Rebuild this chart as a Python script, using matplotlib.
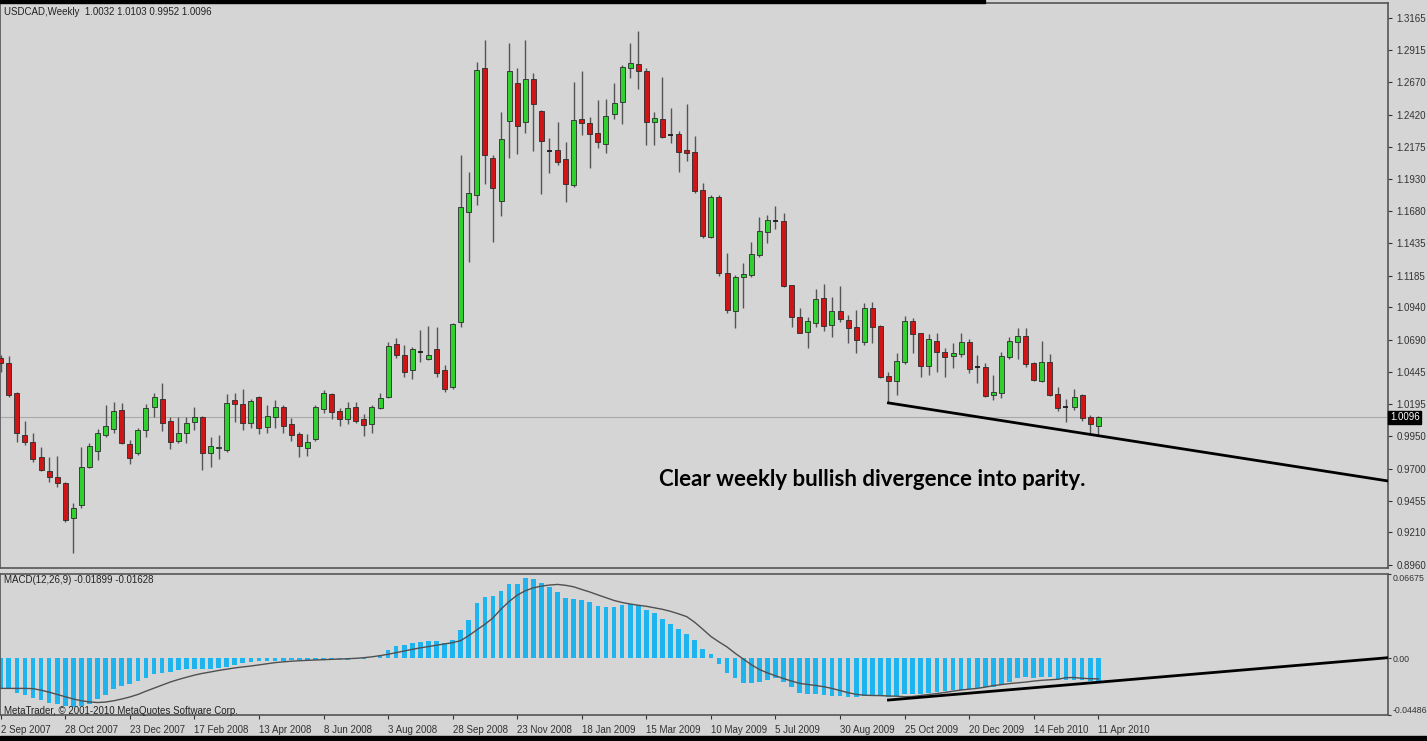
import numpy as np
import matplotlib
matplotlib.use('Agg')
import matplotlib.pyplot as plt
import matplotlib.transforms as mtransforms
from matplotlib.patches import Rectangle

# weekly USDCAD candles, 2 Sep 2007 .. 11 Apr 2010
opens = [1.0552, 1.0513, 1.0282, 0.9960, 0.9906, 0.9790, 0.9683, 0.9637, 0.9591, 0.9322,
         0.9422, 0.9713, 0.9837, 0.9960, 1.0006, 1.0152, 0.9890, 0.9821, 0.9998, 1.0175,
         1.0236, 1.0067, 0.9913, 0.9975, 1.0060, 1.0098, 0.9821, 0.9860, 0.9844, 1.0229,
         1.0198, 1.0052, 1.0252, 1.0021, 1.0098, 1.0175, 1.0044, 0.9967, 0.9860, 0.9929,
         1.0160, 1.0275, 1.0144, 1.0083, 1.0175, 1.0083, 1.0044, 1.0167, 1.0252, 1.0659,
         1.0575, 1.0459, 1.0598, 1.0544, 1.0621, 1.0459, 1.0328, 1.0828, 1.1674, 1.1804,
         1.2781, 1.2089, 1.1758, 1.2373, 1.2665, 1.2366, 1.2696, 1.2450, 1.2143, 1.2150,
         1.2081, 1.1881, 1.2389, 1.2358, 1.2281, 1.2197, 1.2427, 1.2519, 1.2781, 1.2811,
         1.2758, 1.2366, 1.2389, 1.2266, 1.2273, 1.2150, 1.2135, 1.1843, 1.1481, 1.1789,
         1.1205, 1.0913, 1.1174, 1.1189, 1.1343, 1.1520, 1.1605, 1.1605, 1.1113, 1.0867,
         1.0751, 1.0820, 1.1013, 1.0805, 1.0913, 1.0844, 1.0790, 1.0674, 1.0936, 1.0797,
         1.0413, 1.0375, 1.0521, 1.0836, 1.0744, 1.0490, 1.0682, 1.0598, 1.0567, 1.0582,
         1.0674, 1.0482, 1.0482, 1.0267, 1.0282, 1.0559, 1.0674, 1.0720, 1.0513, 1.0375,
         1.0521, 1.0275, 1.0175, 1.0175, 1.0267, 1.0098, 1.0032]
highs = [1.0575, 1.0567, 1.0290, 1.0067, 0.9975, 0.9867, 0.9790, 0.9798, 0.9598, 0.9437,
         0.9867, 0.9898, 1.0006, 1.0190, 1.0213, 1.0206, 0.9921, 1.0013, 1.0198, 1.0282,
         1.0359, 1.0098, 1.0098, 1.0098, 1.0175, 1.0106, 0.9944, 0.9960, 1.0275, 1.0282,
         1.0313, 1.0236, 1.0259, 1.0190, 1.0229, 1.0190, 1.0090, 0.9983, 0.9967, 1.0190,
         1.0305, 1.0282, 1.0167, 1.0213, 1.0213, 1.0121, 1.0190, 1.0282, 1.0674, 1.0705,
         1.0651, 1.0636, 1.0767, 1.0797, 1.0790, 1.0498, 1.0820, 1.2112, 1.1981, 1.2827,
         1.2995, 1.2112, 1.2442, 1.2973, 1.2781, 1.2996, 1.2742, 1.2458, 1.2243, 1.2366,
         1.2212, 1.2673, 1.2758, 1.2404, 1.2535, 1.2542, 1.2665, 1.2804, 1.2973, 1.3065,
         1.2781, 1.2442, 1.2711, 1.2473, 1.2296, 1.2504, 1.2258, 1.1896, 1.1804, 1.1804,
         1.1359, 1.1189, 1.1282, 1.1443, 1.1635, 1.1651, 1.1720, 1.1666, 1.1113, 1.0936,
         1.0867, 1.1082, 1.1120, 1.1020, 1.1105, 1.0882, 1.0920, 1.0974, 1.0982, 1.0805,
         1.0443, 1.0590, 1.0874, 1.0859, 1.0744, 1.0736, 1.0744, 1.0628, 1.0667, 1.0744,
         1.0697, 1.0575, 1.0513, 1.0421, 1.0598, 1.0713, 1.0782, 1.0782, 1.0521, 1.0682,
         1.0582, 1.0328, 1.0236, 1.0313, 1.0275, 1.0113, 1.0103]
lows = [1.0444, 1.0252, 0.9906, 0.9883, 0.9752, 0.9683, 0.9598, 0.9560, 0.9291, 0.9056,
        0.9398, 0.9706, 0.9767, 0.9944, 0.9975, 0.9890, 0.9737, 0.9806, 0.9944, 1.0098,
        0.9990, 0.9852, 0.9898, 0.9898, 0.9998, 0.9690, 0.9713, 0.9775, 0.9829, 1.0060,
        0.9998, 1.0013, 0.9967, 0.9975, 1.0013, 0.9975, 0.9913, 0.9790, 0.9798, 0.9913,
        1.0129, 1.0083, 1.0029, 1.0044, 1.0052, 0.9952, 0.9975, 1.0160, 1.0244, 1.0552,
        1.0405, 1.0390, 1.0521, 1.0536, 1.0405, 1.0290, 1.0313, 1.0790, 1.1289, 1.1728,
        1.1889, 1.1443, 1.1643, 1.2089, 1.2120, 1.2281, 1.2143, 1.1812, 1.1974, 1.2035,
        1.1751, 1.1866, 1.2266, 1.2012, 1.2166, 1.2127, 1.2389, 1.2350, 1.2704, 1.2619,
        1.2189, 1.2189, 1.2243, 1.2204, 1.1981, 1.2066, 1.1820, 1.1474, 1.1474, 1.1182,
        1.0897, 1.0782, 1.0936, 1.1174, 1.1328, 1.1436, 1.1543, 1.1097, 1.0790, 1.0744,
        1.0628, 1.0790, 1.0759, 1.0713, 1.0828, 1.0667, 1.0590, 1.0651, 1.0667, 1.0398,
        1.0206, 1.0267, 1.0505, 1.0590, 1.0405, 1.0420, 1.0444, 1.0405, 1.0475, 1.0559,
        1.0436, 1.0359, 1.0252, 1.0229, 1.0244, 1.0544, 1.0544, 1.0482, 1.0375, 1.0367,
        1.0259, 1.0144, 1.0060, 1.0152, 1.0067, 0.9975, 0.9952]
closes = [1.0513, 1.0267, 0.9975, 0.9906, 0.9775, 0.9690, 0.9637, 0.9591, 0.9306, 0.9399,
          0.9713, 0.9875, 0.9975, 1.0029, 1.0144, 0.9898, 0.9783, 0.9998, 1.0167, 1.0252,
          1.0052, 0.9906, 0.9975, 1.0052, 1.0098, 0.9821, 0.9875, 0.9867, 1.0206, 1.0198,
          1.0052, 1.0221, 1.0013, 1.0106, 1.0175, 1.0029, 0.9960, 0.9875, 0.9906, 1.0175,
          1.0282, 1.0137, 1.0083, 1.0167, 1.0067, 1.0037, 1.0175, 1.0244, 1.0644, 1.0575,
          1.0444, 1.0621, 1.0598, 1.0575, 1.0436, 1.0313, 1.0813, 1.1712, 1.1820, 1.2765,
          1.2112, 1.1858, 1.2235, 1.2758, 1.2335, 1.2696, 1.2504, 1.2220, 1.2143, 1.2058,
          1.1889, 1.2381, 1.2358, 1.2273, 1.2212, 1.2412, 1.2512, 1.2788, 1.2819, 1.2758,
          1.2366, 1.2396, 1.2250, 1.2266, 1.2135, 1.2127, 1.1835, 1.1489, 1.1789, 1.1205,
          1.0920, 1.1174, 1.1197, 1.1351, 1.1528, 1.1612, 1.1605, 1.1105, 1.0867, 1.0744,
          1.0836, 1.1005, 1.0797, 1.0913, 1.0851, 1.0782, 1.0690, 1.0936, 1.0790, 1.0405,
          1.0375, 1.0529, 1.0836, 1.0736, 1.0490, 1.0697, 1.0598, 1.0559, 1.0590, 1.0674,
          1.0467, 1.0482, 1.0259, 1.0290, 1.0567, 1.0682, 1.0720, 1.0505, 1.0382, 1.0521,
          1.0267, 1.0167, 1.0175, 1.0252, 1.0090, 1.0044, 1.0096]

# MACD(12,26,9) main and signal, in thousandths
macd_main = [-23.9, -23.9, -27.2, -29.0, -31.5, -33.3, -35.3, -36.5, -37.8, -38.6,
             -37.8, -35.8, -32.3, -29.0, -23.9, -22.2, -20.2, -17.6, -15.6, -12.1,
             -11.3, -10.6, -9.6, -8.8, -8.8, -8.8, -8.8, -8.0, -7.0, -5.5,
             -3.8, -3.0, -2.5, -2.5, -2.0, -1.8, -1.5, -1.5, -1.8, -1.5,
             -1.0, -0.8, -0.8, -1.0, -0.8, -0.5, 0.3, 3.0, 6.3, 10.1,
             10.8, 12.1, 13.1, 13.9, 13.4, 12.1, 14.6, 22.7, 30.2, 44.1,
             48.4, 49.1, 52.9, 58.7, 59.2, 63.5, 63.0, 60.0, 56.7, 52.5,
             47.8, 47.3, 46.5, 44.4, 41.2, 40.4, 40.4, 42.0, 43.0, 42.5,
             38.5, 35.9, 31.4, 27.1, 23.4, 19.1, 14.6, 7.4, 3.2, -4.8,
             -12.0, -15.9, -19.9, -19.9, -19.1, -17.3, -15.9, -18.6, -22.6, -27.1,
             -27.9, -27.9, -29.2, -30.0, -30.0, -30.6, -30.6, -30.0, -30.0, -30.0,
             -30.6, -30.0, -28.4, -28.4, -27.9, -27.4, -26.6, -25.8, -25.2, -24.7,
             -23.9, -23.1, -22.6, -22.6, -21.3, -18.6, -15.9, -15.1, -15.9, -15.1,
             -15.1, -16.7, -17.3, -17.3, -17.3, -17.8, -18.99]
macd_signal = [-23.8, -23.8, -23.8, -23.8, -24.0, -25.2, -26.8, -28.6, -30.4, -32.2,
               -33.6, -34.5, -35.0, -34.6, -33.6, -32.2, -30.6, -28.6, -26.0, -23.6,
               -21.2, -18.8, -16.8, -15.0, -13.3, -11.9, -10.8, -9.6, -8.6, -7.6,
               -6.8, -6.1, -5.2, -4.3, -3.4, -2.8, -2.3, -1.9, -1.6, -1.3,
               -1.1, -0.8, -0.6, -0.3, 0.0, 0.5, 1.2, 2.1, 3.2, 4.5,
               5.8, 7.1, 8.3, 9.3, 10.4, 11.4, 12.4, 14.0, 18.0, 22.5,
               27.0, 32.0, 39.0, 45.0, 50.0, 53.5, 55.8, 57.2, 58.0, 58.5,
               57.8, 56.6, 54.5, 52.5, 50.2, 48.0, 45.8, 44.2, 43.0, 42.0,
               41.2, 40.0, 38.8, 37.2, 35.2, 33.0, 28.5, 23.0, 17.3, 13.0,
               9.0, 4.0, -0.5, -5.0, -8.8, -11.5, -13.8, -16.0, -18.0, -19.8,
               -20.7, -21.5, -22.5, -23.8, -25.5, -27.2, -28.5, -29.2, -29.4, -29.5,
               -29.8, -30.0, -30.4, -30.2, -29.4, -28.6, -27.9, -27.0, -26.0, -25.1,
               -24.4, -23.8, -22.8, -21.6, -20.8, -20.0, -19.4, -18.8, -18.0, -17.4,
               -17.0, -16.6, -15.3, -15.2, -15.8, -16.1, -16.28]

date_labels = ['2 Sep 2007', '28 Oct 2007', '23 Dec 2007', '17 Feb 2008', '13 Apr 2008',
               '8 Jun 2008', '3 Aug 2008', '28 Sep 2008', '23 Nov 2008', '18 Jan 2009',
               '15 Mar 2009', '10 May 2009', '5 Jul 2009', '30 Aug 2009', '25 Oct 2009',
               '20 Dec 2009', '14 Feb 2010', '11 Apr 2010']
price_ticks = [1.3165, 1.2915, 1.2670, 1.2420, 1.2175, 1.1930, 1.1680, 1.1435, 1.1185,
               1.0940, 1.0690, 1.0445, 1.0195, 0.9950, 0.9700, 0.9455, 0.9210, 0.8960]
last_price = 1.0096
# trend lines: (bar index, value) end points
price_trend = ([110, 171.9], [1.0206, 0.9606])
macd_trend = ([110, 171.9], [-0.0330, 0.0005])

plt.rcParams['font.family'] = ['Liberation Sans', 'DejaVu Sans']

BG = '#d5d5d5'
W, H = 1427, 741
fig = plt.figure(figsize=(W / 100, H / 100), dpi=100, facecolor=BG)
ax = fig.add_axes([0, 1 - 568 / H, 1388 / W, 565 / H], facecolor=BG)
axm = fig.add_axes([0, 1 - 715 / H, 1388 / W, 141 / H], facecolor=BG, sharex=ax)

x = np.arange(len(opens))
o, h, l, c = map(np.array, (opens, highs, lows, closes))
up = c > o
dn = c < o
dj = c == o

ax.axhline(last_price, color='#a9a9a9', lw=0.8, zorder=1)
ax.vlines(x, l, h, color='#555555', lw=1, zorder=2)
ax.bar(x[up], c[up] - o[up], bottom=o[up], width=0.62, color='#30d030',
       edgecolor='#2b2b2b', linewidth=0.6, zorder=3)
ax.bar(x[dn], o[dn] - c[dn], bottom=c[dn], width=0.62, color='#cf1515',
       edgecolor='#2b2b2b', linewidth=0.6, zorder=3)
ax.hlines(o[dj], x[dj] - 0.31, x[dj] + 0.31, color='#1a1a1a', lw=1.3, zorder=3)
ax.plot(*price_trend, color='black', lw=2, zorder=4)

ax.text(108, 0.9621, 'Clear weekly bullish divergence into parity.', family=['Lato', 'DejaVu Sans'],
        fontsize=16, fontweight='bold', ha='center', va='center', color='black')

ax.set_xlim(-0.087, 171.9)
ax.set_ylim(0.8937, 1.3280)
ax.yaxis.tick_right()
ax.set_yticks(price_ticks)
ax.set_yticklabels([f'{t:.4f}' for t in price_ticks])
ax.tick_params(axis='y', direction='out', length=3, labelsize=7, colors='#333333', pad=3)
ax.tick_params(axis='x', bottom=False, labelbottom=False)
trans = mtransforms.blended_transform_factory(ax.transAxes, ax.transData)
ax.text(1.0015, last_price, f'{last_price:.4f}', transform=trans, fontsize=7, color='white',
        va='center', ha='left', bbox=dict(facecolor='black', edgecolor='black', pad=1.2))

axm.bar(x, np.array(macd_main) / 1000, width=0.58, color='#1db4ef', zorder=2)
axm.plot(x, np.array(macd_signal) / 1000, color='#505050', lw=1, zorder=3)
axm.plot(*macd_trend, color='black', lw=2, zorder=4)
axm.set_ylim(-0.04486, 0.06675)
axm.yaxis.tick_right()
axm.set_yticks([0.06675, 0.0, -0.04486])
axm.set_yticklabels(['0.06675', '0.00', '-0.04486'])
axm.tick_params(axis='y', direction='out', length=2, labelsize=6.3, colors='#333333', pad=1.5)
ylabs = axm.get_yticklabels()
ylabs[0].set_verticalalignment('top')
ylabs[2].set_verticalalignment('bottom')
axm.set_xticks(range(0, len(opens), 8))
axm.set_xticklabels(date_labels)
axm.tick_params(axis='x', direction='out', length=3, labelsize=7, colors='#333333', pad=4)
for lbl in axm.get_xticklabels():
    lbl.set_horizontalalignment('left')

for a in (ax, axm):
    for s in a.spines.values():
        s.set_color('#555555')
        s.set_linewidth(1.2)

fig.text(4 / W, 1 - 12 / H, 'USDCAD,Weekly  1.0032 1.0103 0.9952 1.0096', fontsize=7,
         va='center', color='#222222')
fig.text(4 / W, 1 - 580 / H, 'MACD(12,26,9) -0.01899 -0.01628', fontsize=7,
         va='center', color='#222222')
fig.text(4 / W, 1 - 711 / H, 'MetaTrader, \u00a9 2001-2010 MetaQuotes Software Corp.', fontsize=7,
         va='center', color='#222222')

fig.patches.append(Rectangle((0, 1 - 3 / H), 985 / W, 3 / H, transform=fig.transFigure,
                             color='black', zorder=10))
fig.patches.append(Rectangle((0, 0), 1, 5 / H, transform=fig.transFigure,
                             color='black', zorder=10))

fig.savefig('out.png', dpi=100, facecolor=BG)
